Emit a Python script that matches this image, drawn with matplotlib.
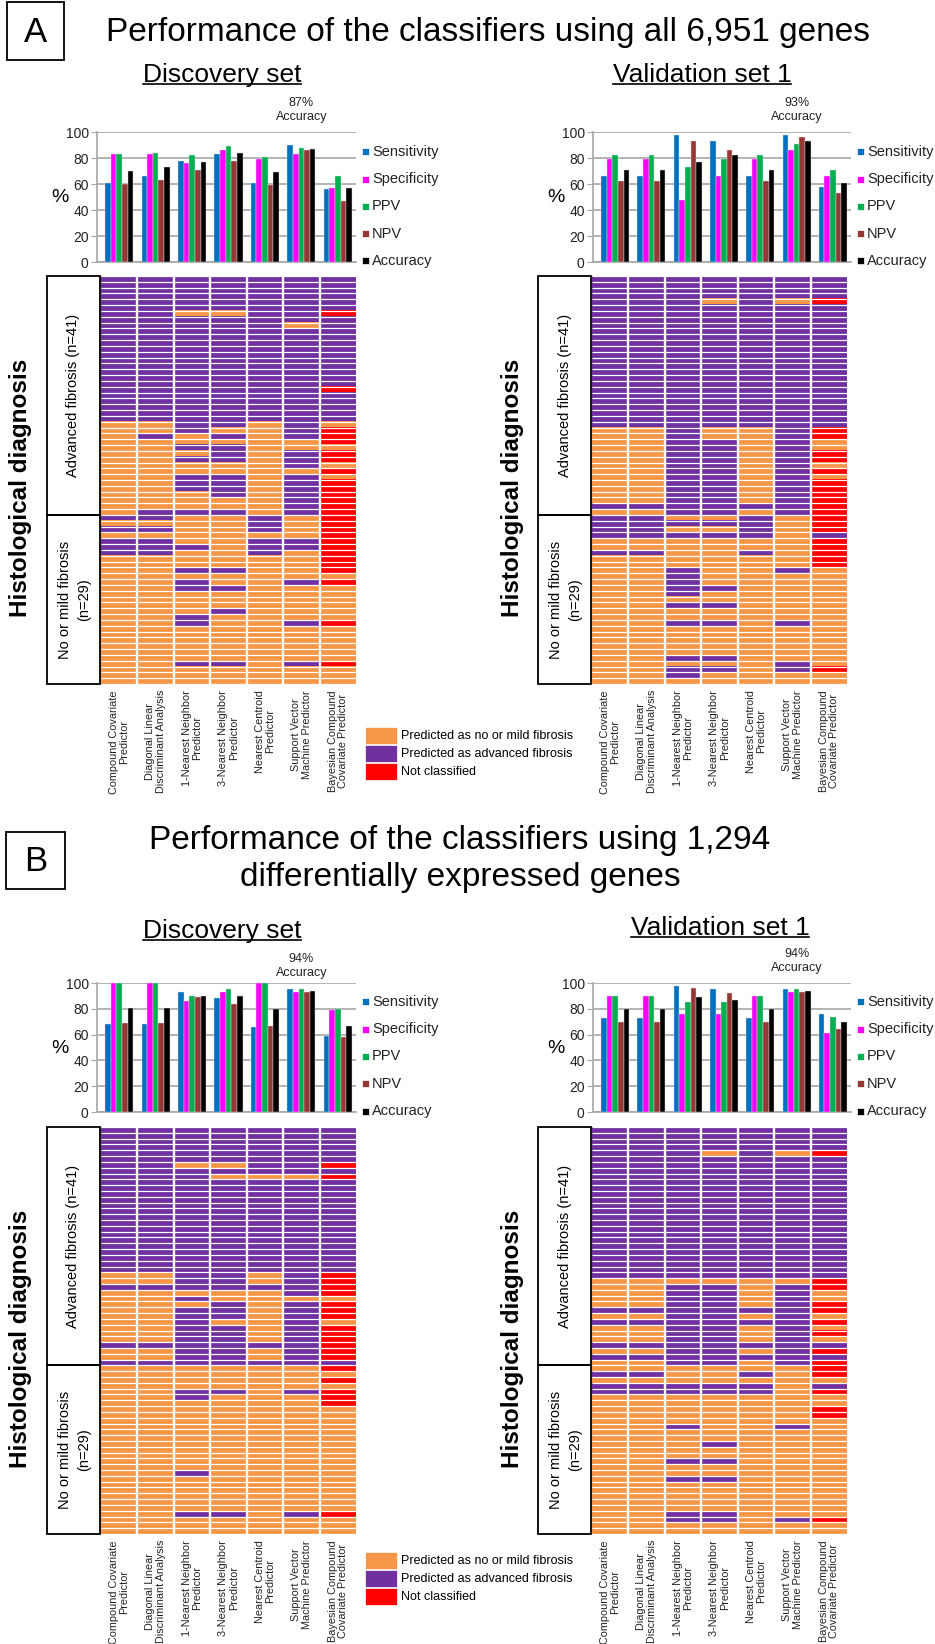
import matplotlib
matplotlib.use('Agg')
import matplotlib.pyplot as plt
import numpy as np
from matplotlib.colors import ListedColormap
from matplotlib.patches import Rectangle
from matplotlib.lines import Line2D

plt.rcParams['font.family'] = ['Liberation Sans', 'DejaVu Sans']

W, H = 935, 1644

classifiers = ['Compound Covariate\nPredictor', 'Diagonal Linear\nDiscriminant Analysis',
               '1-Nearest Neighbor\nPredictor', '3-Nearest Neighbor\nPredictor',
               'Nearest Centroid\nPredictor', 'Support Vector\nMachine Predictor',
               'Bayesian Compound\nCovariate Predictor']
metrics = ['Sensitivity', 'Specificity', 'PPV', 'NPV', 'Accuracy']
metric_colors = ['#0070C0', '#FF00FF', '#00B050', '#953735', '#000000']

# performance (%) for each classifier, all 6,951 genes
a_disc_sens = [61, 66, 78, 83, 61, 90, 56]
a_disc_spec = [83, 83, 76, 86, 79, 83, 57]
a_disc_ppv = [83, 84, 82, 89, 81, 88, 66]
a_disc_npv = [60, 63, 71, 78, 59, 86, 47]
a_disc_acc = [70, 73, 77, 84, 69, 87, 57]

a_val_sens = [66, 66, 98, 93, 66, 98, 58]
a_val_spec = [79, 79, 48, 66, 79, 86, 66]
a_val_ppv = [82, 82, 73, 79, 82, 91, 71]
a_val_npv = [62, 62, 93, 86, 62, 96, 53]
a_val_acc = [71, 71, 77, 82, 71, 93, 61]

# performance (%) for each classifier, 1,294 differentially expressed genes
b_disc_sens = [68, 68, 93, 88, 66, 95, 59]
b_disc_spec = [100, 100, 86, 93, 100, 93, 79]
b_disc_ppv = [100, 100, 90, 95, 100, 95, 80]
b_disc_npv = [69, 69, 89, 84, 67, 93, 58]
b_disc_acc = [81, 81, 90, 90, 80, 94, 67]

b_val_sens = [73, 73, 98, 95, 73, 95, 76]
b_val_spec = [90, 90, 76, 76, 90, 93, 61]
b_val_ppv = [90, 90, 85, 85, 90, 95, 74]
b_val_npv = [70, 70, 96, 92, 70, 93, 64]
b_val_acc = [80, 80, 89, 87, 80, 94, 70]

# per-sample calls, one string per sample (41 advanced, then 29 no/mild),
# one letter per classifier: P = advanced, O = no or mild, R = not classified
ALL_P = 'PPPPPPP'
ALL_O = 'OOOOOOO'

a_disc_calls = ([ALL_P] * 6 + ['PPOOPPR', ALL_P, 'PPPPPOP'] + [ALL_P] * 10 + ['PPPPPPR'] + [ALL_P] * 5 +
                ['OOPPOPO', 'OOPOOPR', 'OPOPOPR', 'OOOOOOR', 'OOPPOOO', 'OOOPOPR', 'OOPPOPR', 'OOOOOPO',
                 'OOOOOOR', 'OOPPOPO', 'OOPPOPR', 'OOPPOPR', 'OOOPOPR', 'OOOOOPR', 'OOOOOPR', 'OPPPOPR'] +
                ['PPOOPOR', 'OOOOPOR', 'PPOOPOR', 'OOOOOOR', 'PPOOPPR', 'PPPOPPR', 'PPOOPOR', 'OOOOOOR',
                 'OOOOOOR', 'OOPPOOR', ALL_O, 'OOPOOPR', 'OOPPOOO', ALL_O, ALL_O, ALL_O, 'OOOPOOO',
                 'OOPOOOO', 'OOPOOPR'] + [ALL_O] * 6 + ['OOPPOPR'] + [ALL_O] * 3)

a_val_calls = ([ALL_P] * 4 + ['PPPOPOR'] + [ALL_P] * 21 +
               ['OOPOOPR', 'OOPOOPR', 'OOPPOPO', 'OOPPOPO', 'OOPPOPR', 'OOPPOPR', 'OOPPOPO', 'OOPPOPR',
                'OOPPOPO', 'OOPPOPR', 'OOPPOPR', 'OOPPOPR', 'OOPPOPR', 'PPPPPPR', 'OOPPOPR'] +
               ['PPOOPOR', 'PPPPPOR', 'PPOOPOR', 'PPPPPOP', 'OOOOOOR', 'OOOOOOR', 'PPOOPOR', 'OOOOOOR',
                'OOOOOOR', 'OOPOOPO', 'OOPOOOO', 'OOPOOOO', 'OOPPOOO', 'OOPOOOO', ALL_O, 'OOPPOOO',
                ALL_O, ALL_O, 'OOPPOPO'] + [ALL_O] * 5 + ['OOPPOOO', 'OOOOOPO', 'OOPPOPR', 'OOPOOOO', ALL_O])

b_disc_calls = ([ALL_P] * 6 + ['PPOOPPR', ALL_P, 'PPPOOOR'] + [ALL_P] * 16 +
                ['OOPPOPR', 'OOPPOPR', 'PPPPPPR', 'OOOOOPR', 'OOPOOOO', 'OOOPOPR', 'OOPPOPR', 'OOPPOPR',
                 'OOPOOPO', 'OOPPOPR', 'OOPPOPR', 'OOPPOPR', 'PPPPPPR', 'OOPPOPR', 'OOPPOPR', 'PPPPPPP'] +
                ['OOOOOOR', ALL_O, 'OOOOOOR', ALL_O, 'OOPPOPR', 'OOPOOOR', 'OOOOOOR'] + [ALL_O] * 11 +
                ['OOPOOOO'] + [ALL_O] * 6 + ['OOPPOPR'] + [ALL_O] * 3)

b_val_calls = ([ALL_P] * 4 + ['PPPOPOR'] + [ALL_P] * 21 +
               ['OOOOOOR', 'OOPPOPR', 'OOPPOPO', 'OOPPOPO', 'OOPPOPR', 'PPPPPPR', 'OOPPOPO', 'PPPPPPR',
                'OOPPOPO', 'OOPPOPR', 'OOPPOPO', 'PPPPPPP', 'OOPPOPR', 'PPPPPPP', 'OOPPOPR'] +
               ['OOOOOOR', 'PPOOPOR', ALL_O, 'PPPPPOP', 'PPPPPOR', ALL_O, ALL_O, 'OOOOOOR', 'OOOOOOR',
                ALL_O, 'OOPOOPO', ALL_O, ALL_O, 'OOOPOOO', ALL_O, ALL_O, 'OOPPOOO', ALL_O, ALL_O,
                'OOPPOOO'] + [ALL_O] * 5 + ['OOPPOOO', 'OOPPOPR', ALL_O, ALL_O])

call_labels = ['Predicted as no or mild fibrosis', 'Predicted as advanced fibrosis', 'Not classified']
call_colors = ['#F79646', '#7030A0', '#FF0000']
call_code = {'O': 0, 'P': 1, 'R': 2}


def fx(x):
    return x / W


def fy(y):
    return 1 - y / H


def px_axes(fig, x0, y0, x1, y1):
    return fig.add_axes([fx(x0), fy(y1), (x1 - x0) / W, (y1 - y0) / H])


def px_box(fig, x0, y0, x1, y1, lw=1.3):
    fig.patches.append(Rectangle((fx(x0), fy(y1)), (x1 - x0) / W, (y1 - y0) / H,
                                 transform=fig.transFigure, fill=False, ec='black', lw=lw))


def px_rect(fig, x0, y0, x1, y1, color):
    fig.patches.append(Rectangle((fx(x0), fy(y1)), (x1 - x0) / W, (y1 - y0) / H,
                                 transform=fig.transFigure, fc=color, ec='white', lw=0.5))


def draw_bars(fig, box, series, note, note_dy):
    x0, y0, x1, y1 = box
    ax = px_axes(fig, x0, y0, x1, y1)
    x = np.arange(len(classifiers))
    w = 0.155
    for k, (vals, col) in enumerate(zip(series, metric_colors)):
        ax.bar(x + (k - 2) * w, vals, w, color=col, edgecolor='#DDDDDD', linewidth=0.3, zorder=3)
    ax.set_xlim(-0.61, 6.5)
    ax.set_ylim(0, 100)
    ax.set_yticks(range(0, 101, 20))
    ax.set_xticks([])
    ax.grid(axis='y', color='#A6A6A6', lw=1.2, zorder=0)
    for s in ['top', 'right']:
        ax.spines[s].set_visible(False)
    for s in ['left', 'bottom']:
        ax.spines[s].set_color('#A6A6A6')
        ax.spines[s].set_linewidth(1.2)
    ax.tick_params(axis='y', length=4, color='#A6A6A6', labelsize=10, pad=2, labelcolor='#222222')
    ax.text(5, 1 + note_dy / (y1 - y0), note, transform=ax.get_xaxis_transform(),
            ha='center', va='center', fontsize=9, linespacing=1.25, color='#222222')
    fig.text(fx(x0 - 37), fy((y0 + y1) / 2 + 1), '%', fontsize=14, ha='center', va='center')
    # legend
    for i, (name, col) in enumerate(zip(metrics, metric_colors)):
        yc = y1 - 1 - (4 - i) * 27.3
        px_rect(fig, x1 + 6, yc - 3.5, x1 + 13, yc + 3.5, col)
        fig.text(fx(x1 + 16), fy(yc), name, fontsize=10.5, va='center', ha='left', color='#222222')


def draw_calls(fig, box, calls):
    x0, y0, x1, y1 = box
    ax = px_axes(fig, x0, y0, x1, y1)
    grid = np.array([[call_code[c] for c in row] for row in calls])
    n_rows, n_cols = grid.shape
    ax.imshow(grid, cmap=ListedColormap(call_colors), vmin=0, vmax=2, aspect='auto',
              interpolation='nearest', extent=(0, n_cols, n_rows, 0))
    ax.hlines(np.arange(0, n_rows + 1), 0, n_cols, color='white', lw=0.9)
    ax.vlines(np.arange(1, n_cols), 0, n_rows, color='white', lw=1.7)
    ax.set_xlim(0, n_cols)
    ax.set_ylim(n_rows, 0)
    ax.axis('off')
    # classifier names under each column
    col_w = (x1 - x0) / n_cols
    for j, name in enumerate(classifiers):
        fig.text(fx(x0 + col_w * (j + 0.5)), fy(y1 + 6), name, rotation=90, ha='center', va='top',
                 multialignment='center', fontsize=7.8, linespacing=1.05, color='#222222')
    # histological diagnosis boxes
    split = y0 + (y1 - y0) * 41 / n_rows
    bx0, bx1 = x0 - 54, x0 - 1
    px_box(fig, bx0, y0, bx1, split)
    px_box(fig, bx0, split, bx1, y1)
    fig.text(fx((bx0 + bx1) / 2), fy((y0 + split) / 2), 'Advanced fibrosis (n=41)', rotation=90,
             ha='center', va='center', fontsize=10.5)
    fig.text(fx((bx0 + bx1) / 2 + 1), fy((split + y1) / 2), 'No or mild fibrosis\n(n=29)', rotation=90,
             ha='center', va='center', fontsize=10.5, multialignment='center', linespacing=1.5)
    fig.text(fx(bx0 - 26), fy((y0 + y1) / 2 + 8), 'Histological diagnosis', rotation=90,
             ha='center', va='center', fontsize=17.5, fontweight='bold')


def draw_call_legend(fig, x, y):
    for i, (name, col) in enumerate(zip(call_labels, call_colors)):
        top = y + i * 18
        px_rect(fig, x, top, x + 32, top + 17, col)
        fig.text(fx(x + 36), fy(top + 9), name, fontsize=9, va='center', ha='left')


def subtitle(fig, renderer, xc, base, text):
    t = fig.text(fx(xc), fy(base), text, fontsize=19, ha='center', va='baseline')
    bb = t.get_window_extent(renderer)
    fig.lines.append(Line2D([bb.x0 / W, bb.x1 / W], [fy(base + 2)] * 2, transform=fig.transFigure,
                            color='black', lw=1.2))


fig = plt.figure(figsize=(W / 100, H / 100), dpi=100)
fig.patch.set_facecolor('white')
renderer = fig.canvas.get_renderer()

# panel A
px_box(fig, 7, 2, 64, 60)
fig.text(fx(35.5), fy(32), 'A', fontsize=25, ha='center', va='center')
fig.text(fx(488), fy(32), 'Performance of the classifiers using all 6,951 genes', fontsize=24,
         ha='center', va='center')
subtitle(fig, renderer, 222, 82, 'Discovery set')
subtitle(fig, renderer, 702, 82, 'Validation set 1')
draw_bars(fig, (97, 132, 356, 262), [a_disc_sens, a_disc_spec, a_disc_ppv, a_disc_npv, a_disc_acc],
          '87%\nAccuracy', 22)
draw_bars(fig, (593, 132, 851, 262), [a_val_sens, a_val_spec, a_val_ppv, a_val_npv, a_val_acc],
          '93%\nAccuracy', 22)
draw_calls(fig, (101, 276, 356, 684), a_disc_calls)
draw_calls(fig, (592, 276, 847, 684), a_val_calls)
draw_call_legend(fig, 365, 727)

# panel B
px_box(fig, 6, 832, 65, 889)
fig.text(fx(35.5), fy(861), 'B', fontsize=25, ha='center', va='center')
fig.text(fx(460), fy(859), 'Performance of the classifiers using 1,294\ndifferentially expressed genes',
         fontsize=24, ha='center', va='center', linespacing=1.22)
subtitle(fig, renderer, 222, 938, 'Discovery set')
subtitle(fig, renderer, 720, 935, 'Validation set 1')
draw_bars(fig, (97, 983, 356, 1112), [b_disc_sens, b_disc_spec, b_disc_ppv, b_disc_npv, b_disc_acc],
          '94%\nAccuracy', 17)
draw_bars(fig, (593, 983, 851, 1112), [b_val_sens, b_val_spec, b_val_ppv, b_val_npv, b_val_acc],
          '94%\nAccuracy', 22)
draw_calls(fig, (101, 1127, 356, 1534), b_disc_calls)
draw_calls(fig, (592, 1127, 847, 1534), b_val_calls)
draw_call_legend(fig, 365, 1552)

fig.savefig('out.png', dpi=100)
